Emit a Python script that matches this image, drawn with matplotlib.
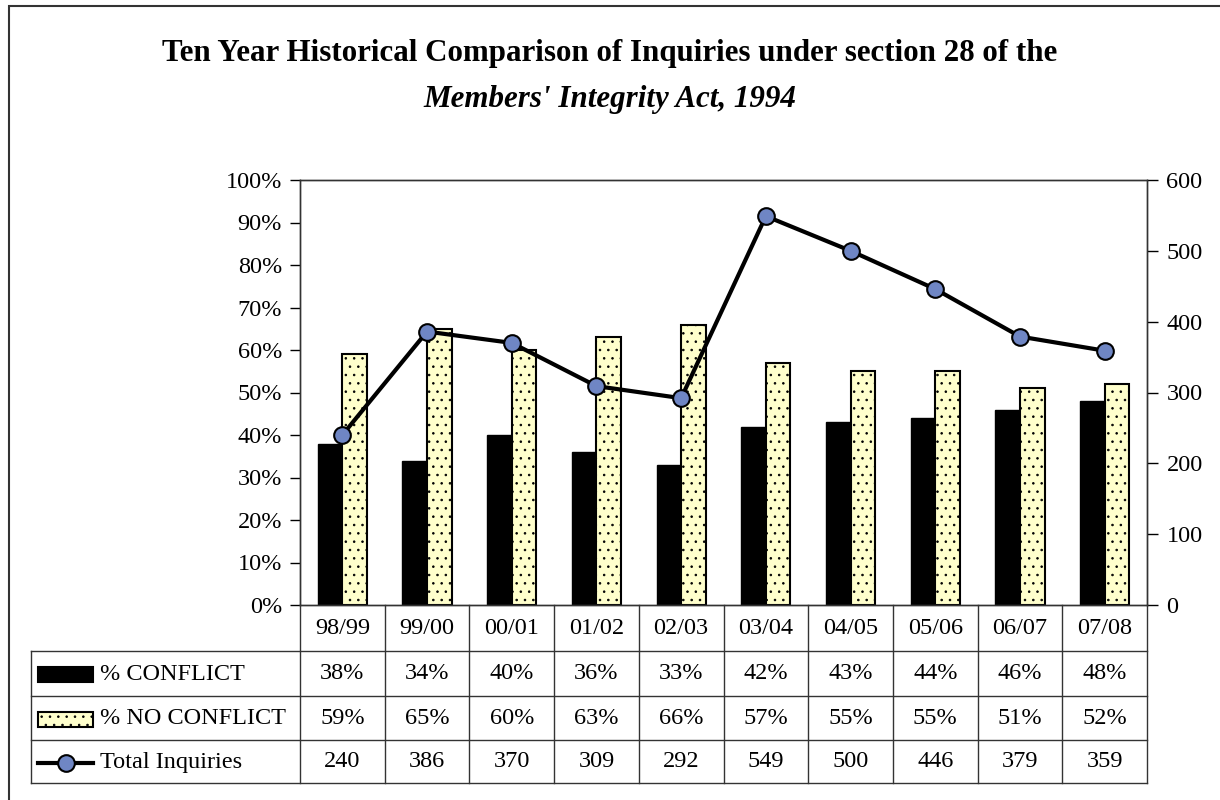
import numpy as np
import matplotlib
matplotlib.use("Agg")
import matplotlib.pyplot as plt
from matplotlib import transforms
from matplotlib.patches import Rectangle
from matplotlib.lines import Line2D

# data
years = ['98/99', '99/00', '00/01', '01/02', '02/03',
         '03/04', '04/05', '05/06', '06/07', '07/08']
conflict = [0.38, 0.34, 0.40, 0.36, 0.33, 0.42, 0.43, 0.44, 0.46, 0.48]
no_conflict = [0.59, 0.65, 0.60, 0.63, 0.66, 0.57, 0.55, 0.55, 0.51, 0.52]
total_inquiries = [240, 386, 370, 309, 292, 549, 500, 446, 379, 359]

pct_ticks = np.arange(0, 1.01, 0.1)
total_ticks = np.arange(0, 601, 100)

W, H = 1220, 800
SERIF = ['Liberation Serif', 'DejaVu Serif']
FS = 17.5
YELLOW = '#FFFFCC'
BLUE = '#6F86C4'

plt.rcParams['font.family'] = SERIF
plt.rcParams['hatch.linewidth'] = 0.6
plt.rcParams['hatch.color'] = '#333333'


def fx(px):
    return px / W


def fy(py):
    return 1 - py / H


fig = plt.figure(figsize=(W / 100, H / 100), dpi=100)

# outer frame (right/bottom edges run off the canvas)
fig.patches.append(Rectangle((fx(9), fy(830)), fx(1240), 830 / H - 6 / H,
                             transform=fig.transFigure, fill=False,
                             edgecolor='#333333', lw=1.5))

fig.text(0.5, fy(54), 'Ten Year Historical Comparison of Inquiries under section 28 of the',
         ha='center', va='center', fontsize=22.3, fontweight='bold')
fig.text(0.5, fy(99), "Members' Integrity Act, 1994",
         ha='center', va='center', fontsize=22.3, fontweight='bold', style='italic')

left, right, top, bottom = 300, 1147, 180, 605
ax = fig.add_axes([fx(left), fy(bottom), fx(right - left), (bottom - top) / H])
x = np.arange(len(years))
bw = 0.29
ax.bar(x - bw / 2, conflict, width=bw, color='black', edgecolor='black', lw=1)
ax.bar(x + bw / 2, no_conflict, width=bw, color=YELLOW, edgecolor='black',
       hatch='..', lw=1.5)
ax.set_xlim(-0.5, len(years) - 0.5)
ax.set_ylim(0, 1)
ax.set_yticks(pct_ticks)
ax.set_yticklabels([f'{int(round(t * 100))}%' for t in pct_ticks])
ax.set_xticks([])
ax.tick_params(axis='y', direction='out', length=7, width=1, labelsize=FS, pad=6)
for s in ax.spines.values():
    s.set_color('#333333')
    s.set_linewidth(1)

ax2 = ax.twinx()
ax2.plot(x, total_inquiries, '-o', color='black', lw=3, ms=12,
         mfc=BLUE, mec='black', mew=1.5, zorder=5)
ax2.set_ylim(0, 600)
ax2.set_yticks(total_ticks)
ax2.tick_params(axis='y', direction='out', length=8, width=1, labelsize=FS, pad=6)
for s in ax2.spines.values():
    s.set_color('#333333')
    s.set_linewidth(1)

# data table under the plot
trans = transforms.blended_transform_factory(ax.transData, fig.transFigure)
rows = [605, 651, 696, 740, 783]
tbl_left = 31
lc = '#333333'
for xb in np.arange(-0.5, len(years), 1.0):
    fig.add_artist(Line2D([xb, xb], [fy(rows[0]), fy(rows[-1])], transform=trans,
                          color=lc, lw=1))
for r in rows[1:]:
    fig.add_artist(Line2D([fx(tbl_left), fx(right)], [fy(r), fy(r)],
                          transform=fig.transFigure, color=lc, lw=1))
fig.add_artist(Line2D([fx(tbl_left), fx(tbl_left)], [fy(rows[1]), fy(rows[-1])],
                      transform=fig.transFigure, color=lc, lw=1))

row_text = [years,
            [f'{round(v * 100)}%' for v in conflict],
            [f'{round(v * 100)}%' for v in no_conflict],
            [str(v) for v in total_inquiries]]
for i, labels in enumerate(row_text):
    yc = fy((rows[i] + rows[i + 1]) / 2)
    for xi, lab in zip(x, labels):
        fig.text(xi, yc, lab, transform=trans, ha='center', va='center', fontsize=FS)

# legend keys in the first column
names = ['% CONFLICT', '% NO CONFLICT', 'Total Inquiries']
for i, name in enumerate(names):
    yc = (rows[i + 1] + rows[i + 2]) / 2 + 1
    fig.text(fx(100), fy(yc), name, ha='left', va='center', fontsize=FS)
    if i < 2:
        fig.patches.append(Rectangle((fx(38), fy(yc + 7.5)), fx(55), 15 / H,
                                     transform=fig.transFigure,
                                     facecolor='black' if i == 0 else YELLOW,
                                     edgecolor='black', lw=1.5,
                                     hatch=None if i == 0 else '..'))
    else:
        fig.add_artist(Line2D([fx(38), fx(93)], [fy(yc), fy(yc)],
                              transform=fig.transFigure, color='black', lw=3))
        fig.add_artist(Line2D([fx(65.5)], [fy(yc)], transform=fig.transFigure,
                              marker='o', ms=12, mfc=BLUE, mec='black', mew=1.5))

fig.savefig('out.png', dpi=100)
